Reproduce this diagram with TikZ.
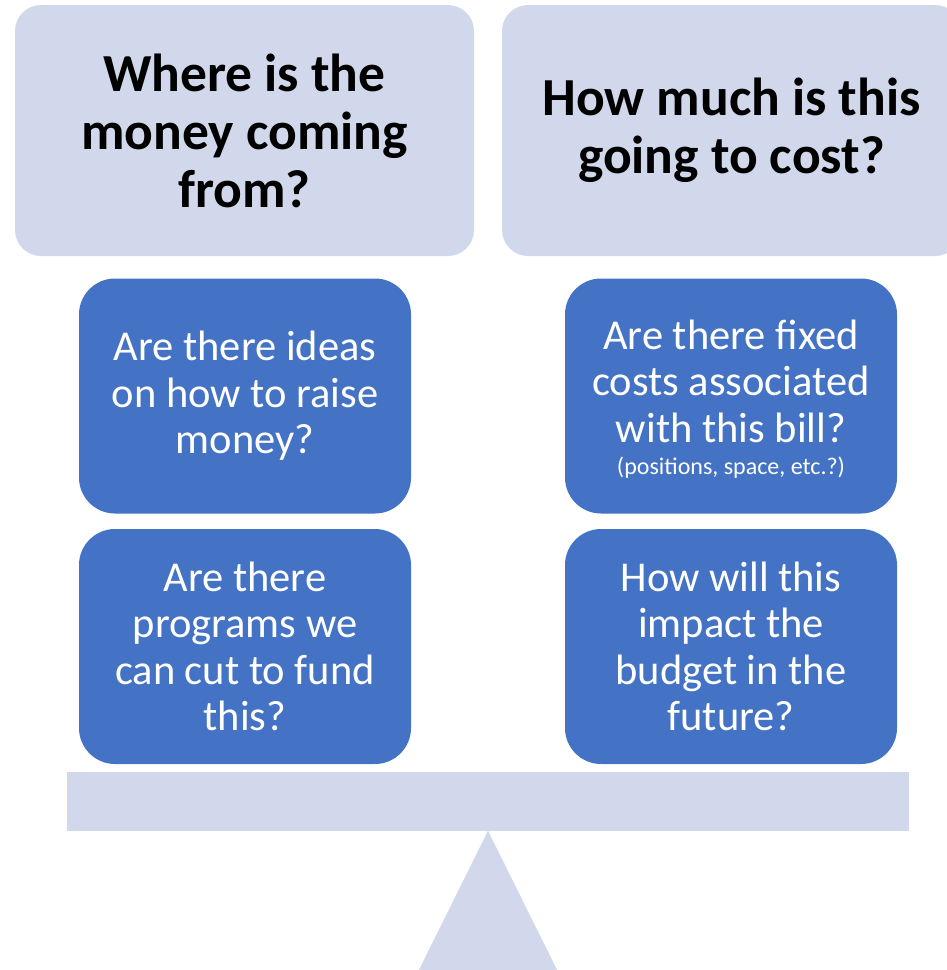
\documentclass[tikz,border=0pt]{standalone}
\usepackage{fontspec}
\setmainfont{Carlito}
\definecolor{lav}{HTML}{D2D8EB}
\definecolor{blu}{HTML}{4472C4}
\begin{document}
\begin{tikzpicture}[x=1pt,y=-1pt,
  titlebox/.style={fill=lav, draw=none, rounded corners=26pt, minimum width=459pt, minimum height=251pt, align=center, inner sep=0pt,
    font=\fontsize{53.5}{58}\selectfont\bfseries},
  qbox/.style={fill=blu, draw=none, rounded corners=36pt, minimum width=332pt, minimum height=235pt, align=center, inner sep=0pt,
    text=white, font=\fontsize{42.5}{46.5}\selectfont}]
\useasboundingbox (0,0) rectangle (947,970);
\clip (0,0) rectangle (947,970);
\node[titlebox] (tl) at (244.5,130.5) {Where is the\\money coming\\from?};
\node[titlebox] (tr) at (731.5,130.5) {How much is this\\going to cost?};
\node[qbox] (q1) at (245,396) {Are there ideas\\on how to raise\\money?};
\node[fill=blu, draw=none, rounded corners=36pt, minimum width=332pt, minimum height=235pt, inner sep=0pt] (q2) at (731,396) {};
\node[align=center, text=white, font=\fontsize{42.5}{46.5}\selectfont, inner sep=0pt] (q2t) at (731,399) {Are there fixed\\costs associated\\with this bill?\\[-14pt]{\fontsize{24}{28}\selectfont (positions, space, etc.?)}};
\node[qbox] (q3) at (245,646.5) {Are there\\programs we\\can cut to fund\\this?};
\node[qbox] (q4) at (731,646.5) {How will this\\impact the\\budget in the\\future?};
\node[fill=lav, draw=none, minimum width=842pt, minimum height=59pt, inner sep=0pt] (beam) at (488,801) {};
\fill[lav] (beam.south) -- (408,992) -- (568,992) -- cycle;
\end{tikzpicture}
\end{document}
